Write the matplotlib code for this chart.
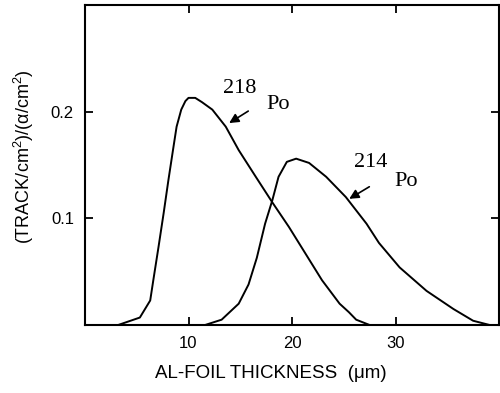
import matplotlib
matplotlib.use('Agg')
import matplotlib.pyplot as plt

# 218Po curve
po218_x = [3.2, 5.3, 6.3, 6.6, 7.1, 7.6, 8.06, 8.5, 8.85, 9.3, 9.7, 10.0, 10.65, 11.3, 12.3,
           13.6, 14.85, 16.5, 18.1, 19.7, 21.3, 22.9, 24.6, 25.5, 26.2, 27.5]
po218_y = [0.0, 0.007, 0.023, 0.042, 0.073, 0.105, 0.136, 0.164, 0.186, 0.202, 0.210, 0.213, 0.213, 0.209, 0.202,
           0.186, 0.164, 0.139, 0.115, 0.092, 0.067, 0.042, 0.020, 0.012, 0.005, 0.0]

# 214Po curve
po214_x = [11.6, 13.2, 14.85, 15.8, 16.6, 17.4, 18.1, 18.7, 19.5, 20.4, 21.65, 23.3, 25.2, 27.2,
           28.4, 30.4, 33.0, 35.6, 37.5, 39.1]
po214_y = [0.0, 0.005, 0.020, 0.038, 0.063, 0.095, 0.117, 0.139, 0.153, 0.156, 0.152, 0.139, 0.120, 0.095,
           0.077, 0.054, 0.032, 0.015, 0.004, 0.0]

xticks = [10, 20, 30]
yticks = [0.1, 0.2]

plt.rcParams['font.family'] = ['Liberation Sans', 'DejaVu Sans']
plt.rcParams['mathtext.default'] = 'regular'

fig = plt.figure(figsize=(5.0, 3.93), dpi=100)
ax = fig.add_axes([0.17, 0.173, 0.828, 0.814])

ax.plot(po218_x, po218_y, color='black', lw=1.4)
ax.plot(po214_x, po214_y, color='black', lw=1.4)

ax.set_xlim(0, 40)
ax.set_ylim(0, 0.3)
ax.set_xticks(xticks)
ax.set_yticks(yticks)
ax.set_xticklabels([str(t) for t in xticks])
ax.set_yticklabels([str(t) for t in yticks])
ax.tick_params(direction='in', top=True, right=True, length=6, width=1.3,
               labelsize=12, pad=8)
for s in ax.spines.values():
    s.set_linewidth(1.5)

ax.set_xlabel('AL-FOIL THICKNESS  (\u03bcm)', fontsize=13.5)
ax.xaxis.set_label_coords(0.45, -0.125)
ax.set_ylabel(r'(TRACK/cm$^{2}$)/($\alpha$/cm$^{2}$)', fontsize=13)
ax.yaxis.set_label_coords(-0.118, 0.525)

serif = 'Liberation Serif'
ax.text(14.95, 0.222, '218', family=serif, fontsize=16, ha='center', va='center')
ax.text(18.7, 0.207, 'Po', family=serif, fontsize=16, ha='center', va='center')
ax.text(27.6, 0.152, '214', family=serif, fontsize=16, ha='center', va='center')
ax.text(31.0, 0.135, 'Po', family=serif, fontsize=16, ha='center', va='center')

arrow = dict(arrowstyle='-|>', color='black', lw=1.2, mutation_scale=14)
ax.annotate('', xy=(13.7, 0.188), xytext=(16.0, 0.202), arrowprops=arrow)
ax.annotate('', xy=(25.3, 0.117), xytext=(27.7, 0.131), arrowprops=arrow)

fig.savefig('out.png', dpi=100)
